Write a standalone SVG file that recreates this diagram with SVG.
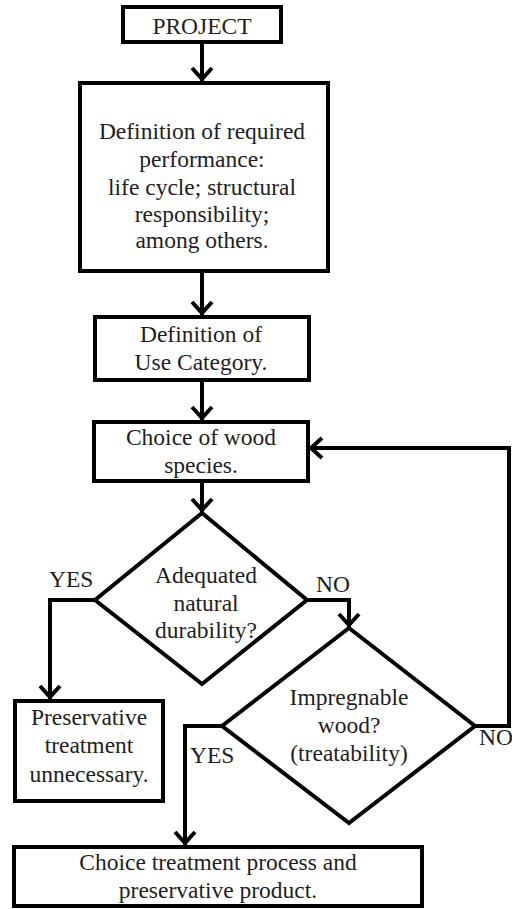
<svg xmlns="http://www.w3.org/2000/svg" width="512" height="909" viewBox="0 0 512 909" font-family="Liberation Serif, Tinos, Noto Serif, DejaVu Serif, Times New Roman, serif">
<style>
.box{fill:#fff;stroke:#000;stroke-width:4}
.t{font-size:23.5px;fill:#1e1e1e;text-anchor:middle}
.l{font-size:23.5px;fill:#1e1e1e}
.c{fill:none;stroke:#000;stroke-width:4;stroke-linejoin:miter}
</style>
<defs>
<marker id="ah" markerUnits="userSpaceOnUse" orient="auto" markerWidth="30" markerHeight="30" refX="3" refY="0" viewBox="-16 -15 22 30" overflow="visible">
<path d="M-11,-10 L0,0 L-11,10" fill="none" stroke="#000" stroke-width="4"/>
</marker>
</defs>
<rect width="512" height="909" fill="#fff"/>
<g id="connectors">
<path class="c" d="M202,42 V82" marker-end="url(#ah)"/>
<path class="c" d="M202,271 V316" marker-end="url(#ah)"/>
<path class="c" d="M202,380 V421" marker-end="url(#ah)"/>
<path class="c" d="M202,481 V513" marker-end="url(#ah)"/>
<path class="c" d="M95,600 H50 V700" marker-end="url(#ah)"/>
<path class="c" d="M307,600 H349 V628" marker-end="url(#ah)"/>
<path class="c" d="M222,726 H185 V846" marker-end="url(#ah)"/>
<path class="c" d="M475,726 H509 V448 H308" marker-end="url(#ah)"/>
<text class="l" x="49" y="587">YES</text>
<text class="l" x="316" y="592">NO</text>
<text class="l" x="190" y="763">YES</text>
<text class="l" x="479" y="745">NO</text>
</g>
<g id="project">
<rect class="box" x="123" y="7" width="158" height="35"/>
<text class="t" x="202" y="34">PROJECT</text>
</g>
<g id="performance">
<rect class="box" x="80" y="83" width="248" height="188"/>
<text class="t" x="202" y="139">Definition of required</text>
<text class="t" x="202" y="167">performance:</text>
<text class="t" x="202" y="195">life cycle; structural</text>
<text class="t" x="202" y="222">responsibility;</text>
<text class="t" x="202" y="248">among others.</text>
</g>
<g id="usecategory">
<rect class="box" x="95" y="317" width="214" height="63"/>
<text class="t" x="201" y="342">Definition of</text>
<text class="t" x="201" y="370">Use Category.</text>
</g>
<g id="species">
<rect class="box" x="94" y="422" width="214" height="59"/>
<text class="t" x="201" y="445">Choice of wood</text>
<text class="t" x="201" y="473">species.</text>
</g>
<g id="durability">
<polygon class="box" points="202,513 307,600 202,684 95,600"/>
<text class="t" x="206" y="583">Adequated</text>
<text class="t" x="206" y="611">natural</text>
<text class="t" x="206" y="638">durability?</text>
</g>
<g id="unnecessary">
<rect class="box" x="15" y="701" width="148" height="100"/>
<text class="t" x="89" y="725">Preservative</text>
<text class="t" x="89" y="753">treatment</text>
<text class="t" x="89" y="782">unnecessary.</text>
</g>
<g id="impregnable">
<polygon class="box" points="349,628 475,726 349,823 222,726"/>
<text class="t" x="349" y="705">Impregnable</text>
<text class="t" x="349" y="733">wood?</text>
<text class="t" x="349" y="761">(treatability)</text>
</g>
<g id="treatment">
<rect class="box" x="14" y="847" width="408" height="59"/>
<text class="t" x="218" y="870">Choice treatment process and</text>
<text class="t" x="218" y="898">preservative product.</text>
</g>
</svg>
